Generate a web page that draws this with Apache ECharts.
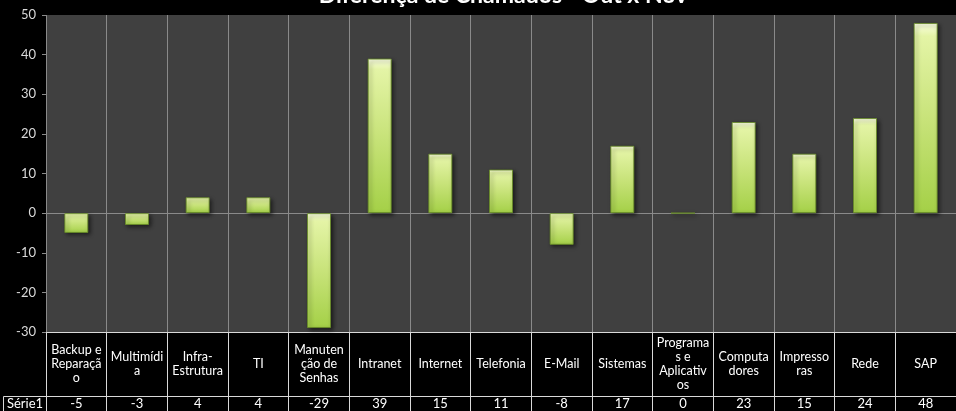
<!DOCTYPE html>
<html>
<head>
<meta charset="utf-8">
<script src="https://cdn.jsdelivr.net/npm/echarts@6/dist/echarts.min.js"></script>
<style>
  html, body { margin: 0; padding: 0; background: #000; }
  #chart { width: 956px; height: 411px; }
</style>
</head>
<body>
<div id="chart"></div>
<script>
// Categories as printed in the data table (with the table's own line breaks)
const categories = [
  'Backup e\nReparaçã\no', 'Multimídi\na', 'Infra-\nEstrutura', 'TI',
  'Manuten\nção de\nSenhas', 'Intranet', 'Internet', 'Telefonia', 'E-Mail',
  'Sistemas', 'Programa\ns e\nAplicativ\nos', 'Computa\ndores', 'Impresso\nras',
  'Rede', 'SAP'
];
const seriesName = 'Série1';
const values = [-5, -3, 4, 4, -29, 39, 15, 11, -8, 17, 0, 23, 15, 24, 48];
const yTicks = { min: -30, max: 50, step: 10 };
const titleText = 'Diferença de Chamados - Out x Nov';

const FONT = 'Lato, "Open Sans", sans-serif';
const tableLine = '#d9d9d9';
const gridLine = '#8a8a8a';

// only the zero line is drawn among the horizontal split lines
const tickCount = (yTicks.max - yTicks.min) / yTicks.step + 1;
const splitColors = [];
for (let i = 0; i < tickCount; i++) {
  splitColors.push(yTicks.min + i * yTicks.step === 0 ? gridLine : 'rgba(0,0,0,0)');
}

const chart = echarts.init(document.getElementById('chart'), null, { renderer: 'canvas' });

chart.setOption({
  backgroundColor: '#000000',
  animation: false,
  grid: {
    left: 46, right: -11, top: 15, bottom: 79,
    show: true, backgroundColor: '#404040', borderWidth: 0
  },
  graphic: [
    {
      type: 'text', x: 503, y: -16, z: 10,
      style: {
        text: titleText, fill: '#ffffff', font: 'bold 23px ' + FONT,
        textAlign: 'center', textVerticalAlign: 'top'
      }
    },
    {
      type: 'rect', z: 10,
      shape: { x: 3.5, y: 396.5, width: 43, height: 30 },
      style: { fill: 'none', stroke: tableLine, lineWidth: 1 }
    },
    {
      type: 'text', z: 10, x: 25, y: 404,
      style: {
        text: seriesName, fill: '#ffffff', font: '13px ' + FONT,
        textAlign: 'center', textVerticalAlign: 'middle'
      }
    }
  ],
  xAxis: [
    {
      type: 'category',
      data: categories,
      position: 'bottom',
      boundaryGap: true,
      axisLine: { show: true, onZero: false, lineStyle: { color: tableLine, width: 1 } },
      axisTick: { show: true, interval: 0, length: 64, lineStyle: { color: tableLine, width: 1 } },
      splitLine: { show: true, interval: 0, lineStyle: { color: gridLine, width: 1 } },
      axisLabel: {
        interval: 0, color: '#ffffff', fontSize: 12.5, fontFamily: FONT,
        lineHeight: 14, verticalAlign: 'middle', margin: 32
      }
    },
    {
      type: 'category',
      data: categories,
      position: 'bottom',
      offset: 64,
      boundaryGap: true,
      axisLine: { show: true, onZero: false, lineStyle: { color: tableLine, width: 1 } },
      axisTick: { show: true, interval: 0, length: 20, lineStyle: { color: tableLine, width: 1 } },
      splitLine: { show: false },
      axisLabel: {
        interval: 0, color: '#ffffff', fontSize: 13, fontFamily: FONT,
        verticalAlign: 'middle', margin: 8,
        formatter: (v, i) => String(values[i])
      }
    }
  ],
  yAxis: {
    type: 'value',
    min: yTicks.min, max: yTicks.max, interval: yTicks.step,
    axisLine: { show: false },
    axisTick: { show: true, length: 4, lineStyle: { color: gridLine } },
    splitLine: { show: true, lineStyle: { color: splitColors, width: 1 } },
    axisLabel: { color: '#d9d9d9', fontSize: 13, fontFamily: FONT, margin: 10 }
  },
  series: [
    {
      name: seriesName,
      type: 'bar',
      xAxisIndex: 0,
      data: values,
      barWidth: 24,
      itemStyle: {
        color: new echarts.graphic.LinearGradient(0, 0, 0, 1, [
          { offset: 0, color: '#fbffe2' },
          { offset: 0.07, color: '#e4f4a6' },
          { offset: 0.5, color: '#c8e37a' },
          { offset: 1, color: '#a4d047' }
        ]),
        borderColor: 'rgba(105,140,40,0.85)',
        borderWidth: 1,
        shadowColor: 'rgba(0,0,0,0.55)',
        shadowBlur: 4,
        shadowOffsetX: 2,
        shadowOffsetY: 2
      }
    }
  ]
});
</script>
</body>
</html>
